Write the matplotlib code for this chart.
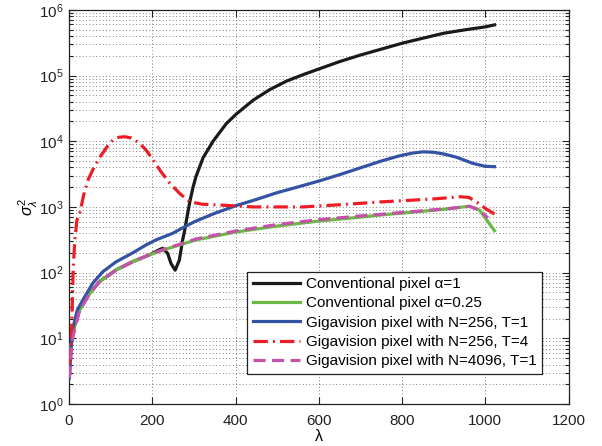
import numpy as np
import matplotlib
matplotlib.use("Agg")
import matplotlib.pyplot as plt
from matplotlib.ticker import LogLocator, NullFormatter

plt.rcParams['font.family'] = ['Liberation Sans', 'DejaVu Sans']
plt.rcParams['mathtext.fontset'] = 'custom'
plt.rcParams['mathtext.rm'] = 'Liberation Sans'
plt.rcParams['mathtext.it'] = 'Liberation Sans:italic'
plt.rcParams['mathtext.bf'] = 'Liberation Sans:bold'

# ---- data ----
conv1_x = [1, 5, 10, 25, 49, 73, 113, 153, 193, 218, 225, 237, 245, 255, 265, 273, 278, 285,
           291, 298, 305, 322, 346, 378, 402, 442, 482, 522, 562, 602, 650, 700, 750, 800,
           850, 900, 950, 1000, 1022]
conv1_y = [6, 8, 13, 27, 48, 73, 110, 147, 186, 225, 235, 196, 138, 109, 155, 315, 445, 800,
           1270, 2000, 2900, 5600, 10000, 18600, 26000, 42000, 61000, 82000, 103000, 127000,
           163000, 205000, 252000, 310000, 370000, 440000, 495000, 550000, 590000]

conv025_x = [1, 5, 10, 25, 49, 73, 113, 153, 193, 233, 305, 400, 500, 600, 700, 746, 826,
             900, 962, 986, 1003, 1022]
conv025_y = [6, 8, 13, 27, 48, 73, 110, 147, 186, 228, 315, 415, 512, 610, 700, 753, 834,
             920, 1026, 895, 635, 435]

giga256_1_x = [1, 5, 9, 20, 33, 57, 81, 113, 153, 185, 209, 249, 266, 301, 350, 402, 450, 500,
               554, 602, 650, 698, 750, 794, 825, 850, 875, 900, 931, 970, 1000, 1022]
giga256_1_y = [2.5, 7, 14, 27, 38, 69, 103, 146, 200, 264, 315, 397, 455, 595, 800, 1050, 1300,
               1650, 2050, 2500, 3100, 3900, 5000, 6000, 6600, 6900, 6800, 6400, 5700, 4600,
               4150, 4100]

giga256_4_x = [1, 5, 7, 10, 14, 19, 26, 35, 46, 60, 74, 90, 106, 120, 134, 150, 170, 186, 202,
               220, 242, 266, 290, 320, 362, 442, 562, 650, 746, 826, 880, 938, 960, 979,
               1000, 1022]
giga256_4_y = [4, 8, 19, 110, 310, 630, 800, 1500, 2600, 4000, 5700, 8000, 10500, 11500, 11700,
               11200, 9300, 7200, 5200, 3500, 2300, 1600, 1200, 1100, 1070, 1000, 1000, 1080,
               1190, 1270, 1330, 1430, 1400, 1190, 950, 780]

giga4096_x = [1, 5, 10, 25, 49, 73, 113, 153, 193, 233, 305, 400, 500, 600, 700, 746, 826,
              900, 962, 986, 1006]
giga4096_y = [2.5, 6, 11, 26, 47, 72, 109, 147, 188, 232, 325, 430, 540, 640, 730, 770, 850,
              930, 1020, 900, 680]

labels = ['Conventional pixel α=1',
          'Conventional pixel α=0.25',
          'Gigavision pixel with N=256, T=1',
          'Gigavision pixel with N=256, T=4',
          'Gigavision pixel with N=4096, T=1']

xticks = [0, 200, 400, 600, 800, 1000, 1200]

# ---- figure ----
fig = plt.figure(figsize=(6.02, 4.46), dpi=100)
ax = fig.add_axes([0.1146, 0.094, 0.830, 0.884])

lw = 2.3
ax.plot(conv1_x, conv1_y, color='#1a1a1a', lw=lw, label=labels[0], zorder=3)
ax.plot(conv025_x, conv025_y, color='#6ab944', lw=lw, label=labels[1], zorder=3)
ax.plot(giga256_1_x, giga256_1_y, color='#3352a3', lw=lw, label=labels[2], zorder=3)
ax.plot(giga256_4_x, giga256_4_y, color='#ee1c24', lw=lw, label=labels[3], zorder=3,
        dashes=(4.5, 1.6, 0.6, 1.6))
ax.plot(giga4096_x, giga4096_y, color='#c452a8', lw=lw, label=labels[4], zorder=3,
        dashes=(3.8, 2.0))

ax.set_yscale('log')
ax.set_xlim(0, 1200)
ax.set_ylim(1, 1e6)
ax.set_xticks(xticks)
ax.yaxis.set_major_locator(LogLocator(base=10, numticks=10))
ax.yaxis.set_minor_locator(LogLocator(base=10, subs=np.arange(2, 10), numticks=20))
ax.yaxis.set_minor_formatter(NullFormatter())

ax.grid(True, which='major', axis='both', color='0.35', lw=0.6, linestyle=(0, (1, 3)))
ax.grid(True, which='minor', axis='y', color='0.35', lw=0.6, linestyle=(0, (1, 3)))

ax.tick_params(which='both', direction='in', top=True, right=True, labelsize=11,
               colors='#222222', width=0.8)
ax.tick_params(which='major', length=5)
ax.tick_params(which='minor', length=3)
ax.tick_params(axis='x', which='major', pad=7)
ax.tick_params(axis='y', which='major', pad=4)
for s in ax.spines.values():
    s.set_color('#222222')
    s.set_linewidth(0.9)

ax.set_xlabel('λ', fontsize=11.5)
ax.xaxis.set_label_coords(0.5, -0.062)
ax.set_ylabel('$\\sigma^2_\\lambda$', fontsize=11.5)
ax.yaxis.set_label_coords(-0.058, 0.5)

leg = ax.legend(loc='lower right', bbox_to_anchor=(0.947, 0.077), fontsize=11,
                frameon=True, fancybox=False, framealpha=1, edgecolor='#222222',
                handlelength=3.1, handletextpad=0.4, borderpad=0.35, labelspacing=0.35,
                borderaxespad=0)
leg.get_frame().set_linewidth(0.9)

fig.savefig('out.png', dpi=100)
